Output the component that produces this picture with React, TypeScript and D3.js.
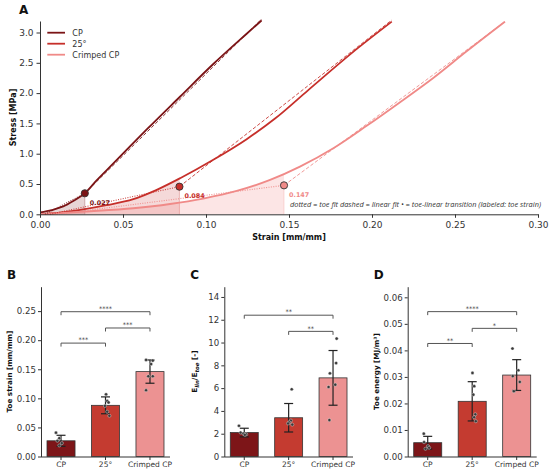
import React, { useEffect, useRef } from 'react';
import * as d3 from 'd3';

// groups and colours
const groups = ['CP', '25°', 'Crimped CP'];
const lineColors = ['#7b1416', '#c62f2a', '#f08a88'];
const barColors = ['#7d1518', '#c43b30', '#ec9292'];

// panel A: stress-strain curves
const cpStrain = [0, 0.007, 0.014, 0.02, 0.0271, 0.0341, 0.0442, 0.0542, 0.0643, 0.0843, 0.1044, 0.1245, 0.1335];
const cpStress = [0.03, 0.07, 0.13, 0.22, 0.35, 0.56, 0.84, 1.12, 1.4, 1.94, 2.48, 2.98, 3.2];
const degStrain = [0, 0.013, 0.026, 0.04, 0.0562, 0.07, 0.0847, 0.1044, 0.1245, 0.1416, 0.1616, 0.1918, 0.2119];
const degStress = [0, 0.03, 0.08, 0.15, 0.25, 0.4, 0.6, 0.9, 1.24, 1.58, 2.05, 2.75, 3.18];
const crimpStrain = [0, 0.027, 0.0562, 0.0783, 0.0984, 0.1185, 0.1386, 0.1566, 0.1767, 0.1968, 0.2169, 0.2369, 0.257, 0.2801];
const crimpStress = [0, 0.045, 0.1, 0.17, 0.26, 0.385, 0.567, 0.787, 1.09, 1.46, 1.85, 2.25, 2.69, 3.18];

// toe-linear transition and fits
const toeStrain = [0.027, 0.084, 0.147];
const toeStress = [0.347, 0.456, 0.478];
const toeFitStart = [0.003, 0.006, 0.01];
const linSlope = [27.0, 21.5, 20.3];

const xTicksA = [0, 0.05, 0.1, 0.15, 0.2, 0.25, 0.3];
const yTicksA = [0, 0.5, 1.0, 1.5, 2.0, 2.5, 3.0];

// panel B: toe strain
const toeStrainMean = [0.027, 0.088, 0.146];
const toeStrainSd = [0.0095, 0.0145, 0.02];
const toeStrainPts = [
  [0.041, 0.0315, 0.027, 0.023, 0.019],
  [0.107, 0.0955, 0.093, 0.087, 0.077, 0.07],
  [0.166, 0.165, 0.159, 0.138, 0.138, 0.114],
];
const toeStrainJitter = [
  [-0.18, -0.06, -0.13, 0.03, -0.06],
  [0.02, 0.06, 0.11, -0.02, 0.06, 0.14],
  [-0.14, 0.1, 0.04, -0.06, 0.1, -0.14],
];
const toeStrainTicks = [0, 0.05, 0.1, 0.15, 0.2, 0.25];
const toeStrainSig = [
  { a: 0, b: 1, v: 0.195, s: '***' },
  { a: 1, b: 2, v: 0.221, s: '***' },
  { a: 0, b: 2, v: 0.249, s: '****' },
];

// panel C: modulus ratio
const ratioMean = [2.1, 3.4, 6.9];
const ratioSd = [0.38, 1.25, 2.4];
const ratioPts = [
  [2.7, 2.1, 2.0, 1.95, 1.9],
  [5.9, 3.15, 3.0, 2.9, 2.8],
  [10.35, 8.2, 7.3, 6.1, 6.3, 3.2],
];
const ratioJitter = [
  [-0.19, -0.13, -0.03, 0.07, 0.02],
  [0.11, 0.08, 0.02, -0.02, 0.13],
  [0.13, 0.11, -0.11, -0.16, 0.08, -0.13],
];
const ratioTicks = [0, 2, 4, 6, 8, 10, 12, 14];
const ratioSig = [
  { a: 1, b: 2, v: 10.98, s: '**' },
  { a: 0, b: 2, v: 12.4, s: '**' },
];

// panel D: toe energy
const energyMean = [0.0052, 0.0208, 0.0307];
const energySd = [0.0024, 0.0074, 0.0058];
const energyPts = [
  [0.0086, 0.0054, 0.0039, 0.0029, 0.0033],
  [0.0315, 0.0265, 0.0233, 0.0159, 0.0148, 0.0133],
  [0.0407, 0.0325, 0.0303, 0.0281, 0.0246],
];
const energyJitter = [
  [-0.14, -0.13, 0.01, -0.08, 0.05],
  [0.01, 0.07, 0.04, 0.11, 0.07, 0.13],
  [-0.15, 0.06, -0.14, 0.11, -0.1],
];
const energyTicks = [0, 0.01, 0.02, 0.03, 0.04, 0.05, 0.06];
const energySig = [
  { a: 0, b: 1, v: 0.0426, s: '**' },
  { a: 1, b: 2, v: 0.0483, s: '*' },
  { a: 0, b: 2, v: 0.0546, s: '****' },
];

const FONT = 'DejaVu Sans, sans-serif';

type Sig = { a: number; b: number; v: number; s: string };

interface BarPanel {
  letter: string;
  left: number;
  right: number;
  yMax: number;
  ticks: number[];
  fmt: string;
  mean: number[];
  sd: number[];
  pts: number[][];
  jitter: number[][];
  sig: Sig[];
  labelX: number;
}

const App: React.FC = () => {
  const svgRef = useRef<SVGSVGElement>(null);

  useEffect(() => {
    if (!svgRef.current) return;
    const svg = d3.select(svgRef.current);
    svg.selectAll('*').remove();

    // ---------- Panel A ----------
    const x = d3.scaleLinear().domain([0, 0.3]).range([40, 538]);
    const y = d3.scaleLinear().domain([0, 3.19]).range([214.3, 21]);

    svg.append('text').attr('x', 19).attr('y', 14).attr('font-family', FONT)
      .attr('font-weight', 'bold').attr('font-size', 12).attr('fill', '#111').text('A');

    const defs = svg.append('defs');
    defs.append('clipPath').attr('id', 'clipA').append('rect')
      .attr('x', 40).attr('y', 19).attr('width', 498).attr('height', 196);

    const curves = [
      { sx: cpStrain, sy: cpStress },
      { sx: degStrain, sy: degStress },
      { sx: crimpStrain, sy: crimpStress },
    ];

    const line = d3.line<[number, number]>()
      .x(d => x(d[0])).y(d => y(d[1])).curve(d3.curveMonotoneX);
    const area = d3.area<[number, number]>()
      .x(d => x(d[0])).y0(y(0)).y1(d => y(d[1])).curve(d3.curveMonotoneX);

    const plotA = svg.append('g').attr('clip-path', 'url(#clipA)');

    // toe shading (area under curve up to toe strain)
    curves.forEach((c, i) => {
      const pts = c.sx.map((v, k) => [v, c.sy[k]] as [number, number]);
      defs.append('clipPath').attr('id', `toe${i}`).append('rect')
        .attr('x', x(0)).attr('y', 0).attr('width', x(toeStrain[i]) - x(0)).attr('height', 474);
      plotA.append('path').datum(pts).attr('d', area)
        .attr('clip-path', `url(#toe${i})`)
        .attr('fill', lineColors[i]).attr('fill-opacity', i === 2 ? 0.22 : 0.18);
      plotA.append('line')
        .attr('x1', x(toeStrain[i])).attr('x2', x(toeStrain[i]))
        .attr('y1', y(0)).attr('y2', y(toeStress[i]))
        .attr('stroke', lineColors[i]).attr('stroke-opacity', 0.35).attr('stroke-width', 0.8);
    });

    // curves
    curves.forEach((c, i) => {
      const pts = c.sx.map((v, k) => [v, c.sy[k]] as [number, number]);
      plotA.append('path').datum(pts).attr('d', line)
        .attr('fill', 'none').attr('stroke', lineColors[i]).attr('stroke-width', 1.8);
    });

    // fits
    curves.forEach((c, i) => {
      const end = c.sx[c.sx.length - 1];
      plotA.append('line')
        .attr('x1', x(toeFitStart[i])).attr('y1', y(0))
        .attr('x2', x(toeStrain[i])).attr('y2', y(toeStress[i]))
        .attr('stroke', lineColors[i]).attr('stroke-width', 1.1)
        .attr('stroke-dasharray', '1,1.4').attr('opacity', 0.9);
      plotA.append('line')
        .attr('x1', x(toeStrain[i])).attr('y1', y(toeStress[i]))
        .attr('x2', x(end)).attr('y2', y(toeStress[i] + linSlope[i] * (end - toeStrain[i])))
        .attr('stroke', lineColors[i]).attr('stroke-width', 1)
        .attr('stroke-dasharray', '3.5,2').attr('opacity', 0.85);
    });

    // markers and toe strain labels
    groups.forEach((_, i) => {
      svg.append('circle')
        .attr('cx', x(toeStrain[i])).attr('cy', y(toeStress[i])).attr('r', 3.6)
        .attr('fill', lineColors[i]).attr('stroke', '#333').attr('stroke-width', 0.9);
      svg.append('text')
        .attr('x', x(toeStrain[i]) + 5).attr('y', y(toeStress[i]) + 11.5)
        .attr('font-family', FONT).attr('font-size', 6.4).attr('font-weight', 'bold')
        .attr('fill', lineColors[i]).text(toeStrain[i].toFixed(3));
    });

    // axes
    svg.append('g').attr('transform', `translate(0,${y(0)})`)
      .call(d3.axisBottom(x).tickValues(xTicksA).tickFormat(d3.format('.2f'))
        .tickSize(3.5).tickPadding(3.5).tickSizeOuter(0))
      .attr('font-family', FONT).attr('font-size', 9).attr('color', '#333');
    svg.append('g').attr('transform', `translate(${x(0)},0)`)
      .call(d3.axisLeft(y).tickValues(yTicksA).tickFormat(d3.format('.1f'))
        .tickSize(3.5).tickPadding(3).tickSizeOuter(0))
      .attr('font-family', FONT).attr('font-size', 9).attr('color', '#333');

    svg.append('text').attr('x', 289).attr('y', 239.5).attr('text-anchor', 'middle')
      .attr('font-family', FONT).attr('font-weight', 'bold').attr('font-size', 8).attr('fill', '#111')
      .text('Strain [mm/mm]');
    svg.append('text').attr('transform', `translate(16,117.5) rotate(-90)`).attr('text-anchor', 'middle')
      .attr('font-family', FONT).attr('font-weight', 'bold').attr('font-size', 8).attr('fill', '#111')
      .text('Stress [MPa]');

    // legend
    groups.forEach((g, i) => {
      const ly = 32.7 + i * 11;
      svg.append('line').attr('x1', 47.3).attr('x2', 65).attr('y1', ly).attr('y2', ly)
        .attr('stroke', lineColors[i]).attr('stroke-width', 1.8);
      svg.append('text').attr('x', 72.3).attr('y', ly + 2.9)
        .attr('font-family', FONT).attr('font-size', 8).attr('fill', '#333').text(g);
    });

    svg.append('text').attr('x', 290).attr('y', 206.6)
      .attr('font-family', 'Open Sans, sans-serif').attr('font-style', 'italic')
      .attr('font-size', 6.4).attr('fill', '#333')
      .attr('textLength', 251).attr('lengthAdjust', 'spacingAndGlyphs')
      .text('dotted = toe fit   dashed = linear fit   \u2022 = toe-linear transition (labeled: toe strain)');

    // ---------- Bar panels ----------
    const top = 286.7;
    const bottom = 456.5;

    const drawPanel = (p: BarPanel, label: (t: d3.Selection<SVGTextElement, unknown, null, undefined>) => void) => {
      const xb = d3.scaleBand<string>().domain(groups).range([p.left, p.right])
        .paddingInner(0.37).paddingOuter(0.135);
      const yb = d3.scaleLinear().domain([0, p.yMax]).range([bottom, top]);
      const g = svg.append('g');
      const bw = xb.bandwidth();
      const cx = (i: number) => (xb(groups[i]) as number) + bw / 2;

      svg.append('text').attr('x', p.left - 34).attr('y', 278.5).attr('font-family', FONT)
        .attr('font-weight', 'bold').attr('font-size', 12).attr('fill', '#111').text(p.letter);

      g.selectAll('rect.bar').data(p.mean).enter().append('rect')
        .attr('x', (_, i) => xb(groups[i]) as number).attr('width', bw)
        .attr('y', d => yb(d)).attr('height', d => bottom - yb(d))
        .attr('fill', (_, i) => barColors[i]).attr('stroke', '#333').attr('stroke-width', 0.8);

      // error bars
      p.mean.forEach((m, i) => {
        const lo = yb(m - p.sd[i]);
        const hi = yb(m + p.sd[i]);
        g.append('line').attr('x1', cx(i)).attr('x2', cx(i)).attr('y1', lo).attr('y2', hi)
          .attr('stroke', '#222').attr('stroke-width', 1.2);
        [lo, hi].forEach(v => g.append('line').attr('x1', cx(i) - 4.5).attr('x2', cx(i) + 4.5)
          .attr('y1', v).attr('y2', v).attr('stroke', '#222').attr('stroke-width', 1.2));
      });

      // individual points
      p.pts.forEach((arr, i) => {
        arr.forEach((v, k) => {
          g.append('circle').attr('cx', cx(i) + p.jitter[i][k] * bw).attr('cy', yb(v)).attr('r', 1.6)
            .attr('fill', '#3a3a3a').attr('stroke', '#e8e8e8').attr('stroke-width', 0.4);
        });
      });

      // significance brackets
      p.sig.forEach(s => {
        const by = yb(s.v);
        g.append('path')
          .attr('d', `M${cx(s.a)},${by + 3.5}V${by}H${cx(s.b)}V${by + 3.5}`)
          .attr('fill', 'none').attr('stroke', '#555').attr('stroke-width', 1);
        g.append('text').attr('x', (cx(s.a) + cx(s.b)) / 2).attr('y', by - 0.8)
          .attr('text-anchor', 'middle').attr('font-family', FONT).attr('font-size', 6.5)
          .attr('fill', '#333').text(s.s);
      });

      svg.append('g').attr('transform', `translate(0,${bottom})`)
        .call(d3.axisBottom(xb).tickSize(3.5).tickPadding(2).tickSizeOuter(0))
        .attr('font-family', FONT).attr('font-size', 7.5).attr('color', '#333')
        .call(a => a.select('.domain').attr('d', `M${p.left},0.5H${p.right}`));
      svg.append('g').attr('transform', `translate(${p.left},0)`)
        .call(d3.axisLeft(yb).tickValues(p.ticks).tickFormat(d3.format(p.fmt))
          .tickSize(3).tickPadding(2).tickSizeOuter(0))
        .attr('font-family', FONT).attr('font-size', 8.6).attr('color', '#333');

      const t = svg.append('text')
        .attr('transform', `translate(${p.labelX},${(top + bottom) / 2}) rotate(-90)`)
        .attr('text-anchor', 'middle').attr('font-family', FONT).attr('font-weight', 'bold')
        .attr('font-size', 7.2).attr('fill', '#111');
      label(t);
    };

    drawPanel({
      letter: 'B', left: 41, right: 170, yMax: 0.292, ticks: toeStrainTicks, fmt: '.2f',
      mean: toeStrainMean, sd: toeStrainSd, pts: toeStrainPts, jitter: toeStrainJitter,
      sig: toeStrainSig, labelX: 12,
    }, t => t.text('Toe strain [mm/mm]'));

    drawPanel({
      letter: 'C', left: 224.3, right: 353, yMax: 14.9, ticks: ratioTicks, fmt: 'd',
      mean: ratioMean, sd: ratioSd, pts: ratioPts, jitter: ratioJitter,
      sig: ratioSig, labelX: 197,
    }, t => {
      t.append('tspan').text('E');
      t.append('tspan').attr('dy', 2).attr('font-size', 5.5).attr('font-style', 'italic').text('lin');
      t.append('tspan').attr('dy', -2).text('/E');
      t.append('tspan').attr('dy', 2).attr('font-size', 5.5).attr('font-style', 'italic').text('toe');
      t.append('tspan').attr('dy', -2).text(' [-]');
    });

    drawPanel({
      letter: 'D', left: 407.7, right: 536.7, yMax: 0.064, ticks: energyTicks, fmt: '.2f',
      mean: energyMean, sd: energySd, pts: energyPts, jitter: energyJitter,
      sig: energySig, labelX: 379,
    }, t => t.text('Toe energy [MJ/m³]'));
  }, []);

  return (
    <div style={{ position: 'absolute', left: 0, top: 0 }}>
      <svg ref={svgRef} width={550} height={474} style={{ display: 'block', background: '#fff' }} />
    </div>
  );
};

export default App;
